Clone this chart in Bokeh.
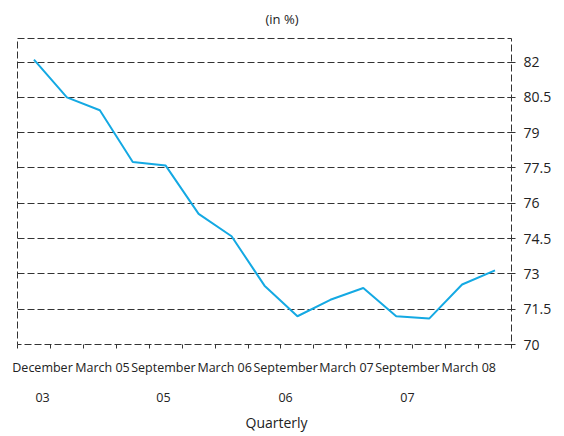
from bokeh.plotting import figure
from bokeh.models import FixedTicker, Range1d, ColumnDataSource, Title
from bokeh.embed import file_html
from bokeh.resources import INLINE

# ---- data ----
quarter = list(range(15))
share = [82.1, 80.5, 79.95, 77.75, 77.6, 75.55, 74.6, 72.5, 71.2, 71.9,
         72.4, 71.2, 71.1, 72.55, 73.15]
tick_labels = ["December\n03", "March 05", "September\n05", "March 06",
               "September\n06", "March 07", "September\n07", "March 08"]
tick_label_pos = [0.26, 2.08, 3.93, 5.79, 7.64, 9.49, 11.34, 13.20]
y_ticks = [70, 71.5, 73, 74.5, 76, 77.5, 79, 80.5, 82]

FONT = "Open Sans"
INK = "#333333"
TXT = "#222222"
DASH = "7 3"

src = ColumnDataSource(dict(quarter=quarter, share=share))

p = figure(frame_width=494, frame_height=306, output_backend="svg",
           toolbar_location=None,
           x_range=Range1d(-0.5, 14.5), y_range=Range1d(70, 83),
           y_axis_location="right",
           min_border_left=17, min_border_right=50, min_border_top=38,
           min_border_bottom=86)

p.background_fill_color = "white"
p.border_fill_color = "white"
p.outline_line_color = INK
p.outline_line_dash = DASH
p.outline_line_width = 1

# title
p.title.text = "(in %)"
p.title.align = "left"
p.title.offset = 248
p.title.vertical_align = "top"
p.title.standoff = 18
p.title.text_font = FONT
p.title.text_font_style = "normal"
p.title.text_font_size = "13px"
p.title.text_color = TXT

# x axis
xa = p.xaxis[0]
xa.ticker = FixedTicker(ticks=tick_label_pos,
                        minor_ticks=[q - 0.5 for q in quarter] + [quarter[-1] + 0.5])
xa.major_label_overrides = {pos: lab for pos, lab in zip(tick_label_pos, tick_labels)}
xa.major_tick_in = 0
xa.major_tick_out = 0
xa.minor_tick_in = 0
xa.minor_tick_out = 4
xa.minor_tick_line_color = INK
xa.axis_line_color = None
xa.major_label_text_font = FONT
xa.major_label_text_font_size = "12.5px"
xa.major_label_text_color = TXT
xa.major_label_text_line_height = 1.8
xa.major_label_standoff = 10

p.add_layout(Title(text="Quarterly", align="left", offset=228,
                   vertical_align="top", standoff=6,
                   text_font=FONT, text_font_style="normal",
                   text_font_size="14px", text_color=TXT), "below")

# y axis (right)
ya = p.yaxis[0]
ya.ticker = FixedTicker(ticks=y_ticks)
ya.major_label_overrides = {v: f"{v:g}" for v in y_ticks}
ya.major_tick_in = 4
ya.major_tick_out = 4
ya.major_tick_line_color = INK
ya.minor_tick_line_color = None
ya.axis_line_color = None
ya.major_label_text_font = FONT
ya.major_label_text_font_size = "14px"
ya.major_label_text_color = TXT
ya.major_label_standoff = 8

p.xgrid.visible = False
p.ygrid.ticker = ya.ticker
p.ygrid.grid_line_color = INK
p.ygrid.grid_line_dash = DASH
p.ygrid.grid_line_width = 1

p.line("quarter", "share", source=src, line_color="#14A9E3", line_width=2)

open("out.html", "w").write(file_html(p, INLINE))
